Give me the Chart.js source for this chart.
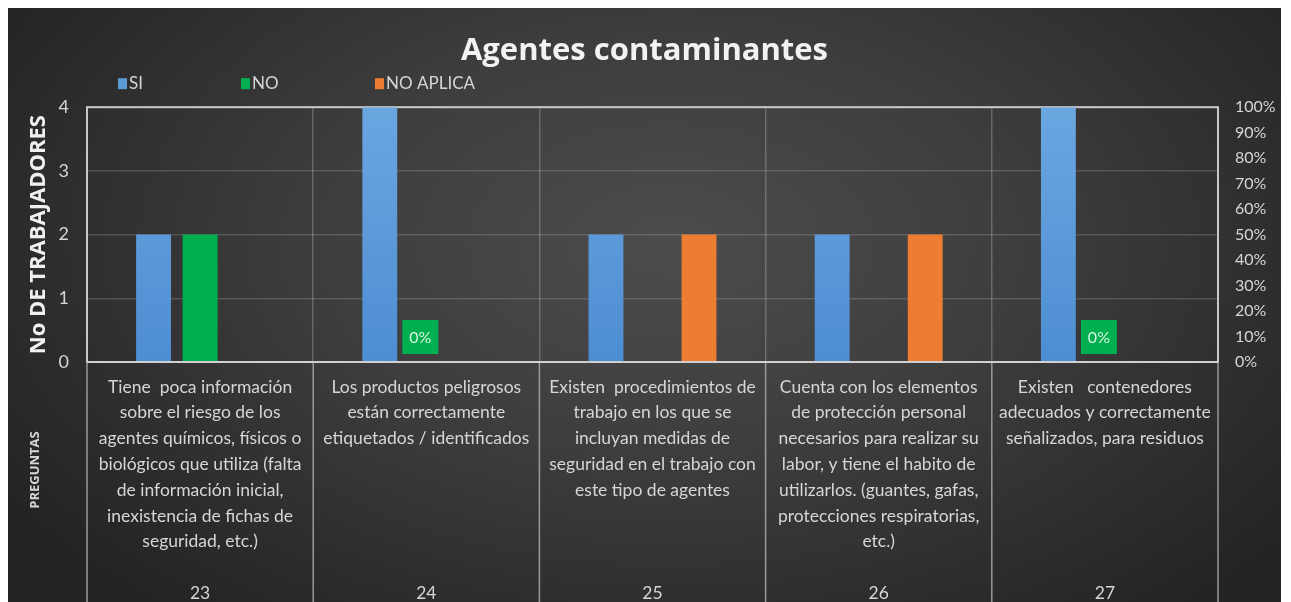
<!DOCTYPE html>
<html>
<head>
<meta charset="utf-8">
<script src="https://cdn.jsdelivr.net/npm/chart.js@4.4.1/dist/chart.umd.min.js"></script>
<style>
html,body{margin:0;padding:0;background:#fff;overflow:hidden;}
#wrap{position:absolute;left:8px;top:8px;width:1273px;height:594px;overflow:hidden;
  background:radial-gradient(ellipse 62% 80% at 52% 40%, #4c4c4c 0%, #3d3d3d 45%, #232323 100%);}
canvas{display:block}
</style>
</head>
<body>
<div id="wrap"><canvas id="chart" width="1273" height="600"></canvas></div>
<script>
'use strict';

// ---- data ----
const categories = ['23', '24', '25', '26', '27'];
const questions = [
  ['Tiene  poca información', 'sobre el riesgo de los', 'agentes químicos, físicos o',
   'biológicos que utiliza (falta', 'de información inicial,', 'inexistencia de fichas de', 'seguridad, etc.)'],
  ['Los productos peligrosos', 'están correctamente', 'etiquetados / identificados'],
  ['Existen  procedimientos de', 'trabajo en los que se', 'incluyan medidas de',
   'seguridad en el trabajo con', 'este tipo de agentes'],
  ['Cuenta con los elementos', 'de protección personal', 'necesarios para realizar su',
   'labor, y tiene el habito de', 'utilizarlos. (guantes, gafas,', 'protecciones respiratorias,', 'etc.)'],
  ['Existen   contenedores', 'adecuados y correctamente', 'señalizados, para residuos']
];
const siValues = [2, 4, 2, 2, 4];
const noValues = [2, 0, 0, 0, 0];
const noAplicaValues = [0, 0, 2, 2, 0];
const noLabels = [null, '0%', null, null, '0%'];
const leftTicks = [0, 1, 2, 3, 4];
const rightTicks = ['0%', '10%', '20%', '30%', '40%', '50%', '60%', '70%', '80%', '90%', '100%'];

// x labels: question lines, a blank line, then the question number
const xLabels = categories.map((c, i) => {
  const lines = questions[i].slice();
  while (lines.length < 8) lines.push('');
  lines.push(c);
  return lines;
});

const FONT = 'Lato, "Open Sans", sans-serif';
const TXT = '#d6d6d6';

/////////////////////
//// plugins ////////

const frame = {
  id: 'frame',
  beforeDatasetsDraw(chart) {
    const {ctx, chartArea: a} = chart;
    ctx.save();
    ctx.strokeStyle = '#c8c8c8';
    ctx.lineWidth = 2;
    ctx.strokeRect(a.left, a.top, a.right - a.left, a.bottom - a.top);
    ctx.restore();
  },
  afterDraw(chart) {
    const {ctx, chartArea: a} = chart;
    const x = chart.scales.x;
    const half = x.width / categories.length / 2;
    ctx.save();
    // cell separators under the plot
    ctx.strokeStyle = '#9a9a9a';
    ctx.lineWidth = 1.5;
    for (let i = 0; i <= categories.length; i++) {
      const px = i < categories.length ? x.getPixelForValue(i) - half : x.getPixelForValue(i - 1) + half;
      ctx.beginPath();
      ctx.moveTo(px, a.bottom);
      ctx.lineTo(px, chart.height);
      ctx.stroke();
    }
    // zero line on top
    ctx.strokeStyle = '#d0d0d0';
    ctx.lineWidth = 2;
    ctx.beginPath();
    ctx.moveTo(a.left, a.bottom);
    ctx.lineTo(a.right, a.bottom);
    ctx.stroke();

    // PREGUNTAS
    ctx.fillStyle = TXT;
    ctx.font = 'bold 13px "Open Sans", sans-serif';
    ctx.textAlign = 'center';
    ctx.textBaseline = 'middle';
    ctx.translate(27, x.top + 108);
    ctx.rotate(-Math.PI / 2);
    ctx.fillText('PREGUNTAS', 0, 0);
    ctx.restore();

    // green value boxes on the NO series
    const meta = chart.getDatasetMeta(1);
    ctx.save();
    ctx.font = '16px ' + FONT;
    ctx.textAlign = 'center';
    ctx.textBaseline = 'middle';
    noLabels.forEach((lab, i) => {
      if (!lab) return;
      const bar = meta.data[i];
      const cx = bar.x - 6;
      const by = bar.y - 8;
      ctx.fillStyle = '#00b050';
      ctx.fillRect(cx - 18, by - 34, 36, 34);
      ctx.fillStyle = '#d8f5df';
      ctx.fillText(lab, cx, by - 16);
    });
    ctx.restore();
  }
};

const legendRow = {
  id: 'legendRow',
  afterDraw(chart) {
    const {ctx, chartArea: a} = chart;
    const offs = [31, 154, 288];
    ctx.save();
    ctx.font = '17px ' + FONT;
    ctx.textBaseline = 'middle';
    chart.data.datasets.forEach((ds, i) => {
      const x = a.left + offs[i];
      const y = a.top - 24;
      ctx.fillStyle = ds.legendColor;
      ctx.fillRect(x, y - 5, 9, 11);
      ctx.fillStyle = TXT;
      ctx.fillText(ds.label, x + 11, y);
    });
    ctx.restore();
  }
};

///////////////////////
//// Bar chart ////////

const blueFill = function (c) {
  const a = c.chart.chartArea;
  if (!a) return '#5b9bd5';
  const g = c.chart.ctx.createLinearGradient(0, a.top, 0, a.bottom);
  g.addColorStop(0, '#6aa6e0');
  g.addColorStop(1, '#4d8dd2');
  return g;
};

const ctxb = document.getElementById('chart').getContext('2d');
const chartb = new Chart(ctxb, {
  type: 'bar',
  data: {
    labels: xLabels,
    datasets: [
      {label: 'SI', data: siValues, backgroundColor: blueFill, legendColor: '#5b9bd5', yAxisID: 'y'},
      {label: 'NO', data: noValues, backgroundColor: '#00b050', legendColor: '#00b050', yAxisID: 'y'},
      {label: 'NO APLICA', data: noAplicaValues, backgroundColor: '#ed7d31', legendColor: '#ed7d31', yAxisID: 'y'}
    ]
  },
  options: {
    responsive: false,
    animation: false,
    categoryPercentage: 0.617,
    barPercentage: 0.75,
    layout: {padding: {left: 0, right: 0, top: 0, bottom: 0}},
    plugins: {
      legend: {display: false},
      tooltip: {enabled: false},
      title: {
        display: true,
        text: 'Agentes contaminantes',
        color: '#f2f2f2',
        font: {family: '"Open Sans", sans-serif', size: 31, weight: 'bold'},
        padding: {top: 25, bottom: 37}
      }
    },
    scales: {
      x: {
        grid: {display: true, offset: true, color: 'rgba(255,255,255,0.22)', lineWidth: 1.5, drawTicks: false},
        border: {display: false},
        ticks: {color: TXT, font: {family: FONT, size: 17.5, lineHeight: 1.475}, padding: 12,
                maxRotation: 0, autoSkip: false},
        afterFit: s => { s.height = 246; }
      },
      y: {
        position: 'left',
        min: 0, max: 4,
        afterBuildTicks: s => { s.ticks = leftTicks.map(v => ({value: v})); },
        ticks: {color: TXT, font: {family: FONT, size: 18}, padding: 18},
        grid: {color: 'rgba(255,255,255,0.16)', lineWidth: 1.5, drawTicks: false},
        border: {display: false},
        title: {display: true, text: 'No DE TRABAJADORES', color: '#f0f0f0',
                font: {family: '"Open Sans", sans-serif', size: 22, weight: 'bold'},
                padding: {top: 18, bottom: 0}},
        afterFit: s => { s.width = 79; }
      },
      y1: {
        position: 'right',
        min: 0, max: 10,
        afterBuildTicks: s => { s.ticks = rightTicks.map((t, i) => ({value: i})); },
        ticks: {color: TXT, font: {family: FONT, size: 16}, padding: 17, autoSkip: false,
                callback: (v, i) => rightTicks[i]},
        grid: {display: false, drawTicks: false},
        border: {display: false},
        afterFit: s => { s.width = 63; }
      }
    }
  },
  plugins: [frame, legendRow]
});
</script>
</body>
</html>
